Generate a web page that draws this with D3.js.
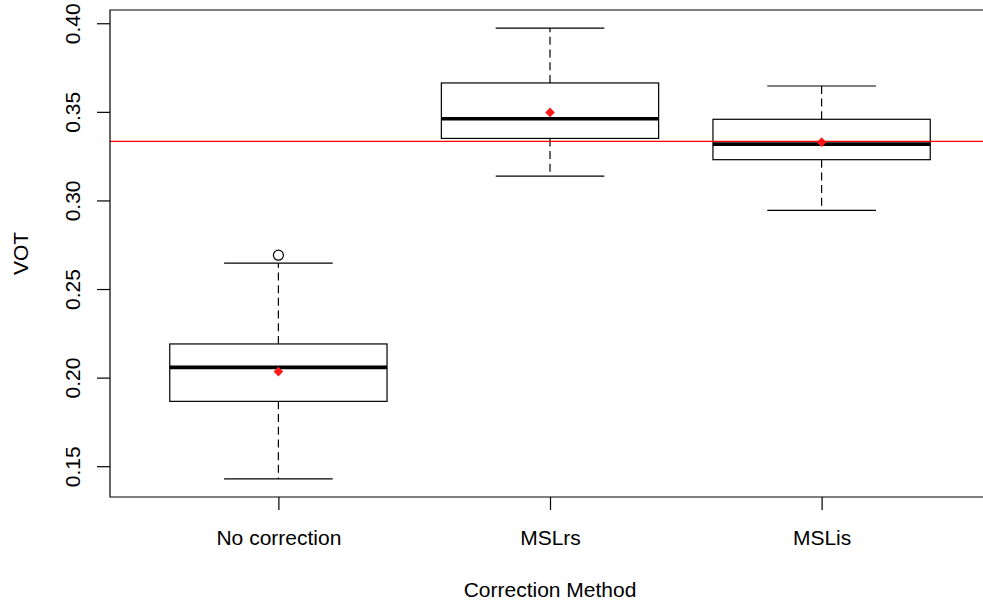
<!DOCTYPE html>
<html>
<head>
<meta charset="utf-8">
<script src="https://cdn.jsdelivr.net/npm/d3@7"></script>
<style>
  html, body { margin: 0; padding: 0; background: #fff; overflow: hidden; }
  svg { display: block; }
  text { font-family: "Liberation Sans", Arial, Helvetica, sans-serif; fill: #000; }
</style>
</head>
<body>
<div id="chart"></div>
<script>
// Datos (boxplot de VOT por método de corrección)
var categories   = ["No correction", "MSLrs", "MSLis"];
var lowWhisker   = [0.1428, 0.3137, 0.2944];
var q1           = [0.1866, 0.3350, 0.3230];
var medians      = [0.2058, 0.3461, 0.3318];
var q3           = [0.2190, 0.3663, 0.3458];
var highWhisker  = [0.2646, 0.3973, 0.3646];
var means        = [0.2034, 0.3497, 0.3329];
var outliers     = [[0.2691], [], []];
var refValue     = 1 / 3;
var yTicks       = [0.15, 0.20, 0.25, 0.30, 0.35, 0.40];
var xTitle = "Correction Method", yTitle = "VOT";

// Dimensiones (el marco derecho queda fuera de la imagen, como en el original)
var W = 983, H = 603;
var margin = {top: 10, right: -7, bottom: 106, left: 110},
    width = W - margin.left - margin.right,
    height = H - margin.top - margin.bottom;

var svg = d3.select("#chart").append("svg")
    .attr("width", W)
    .attr("height", H)
    .append("g")
    .attr("transform", "translate(" + margin.left + "," + margin.top + ")");

// Escalas (como R: rango de datos extendido un 4%)
var lo = d3.min(lowWhisker), hi = d3.max(highWhisker.concat(d3.merge(outliers)));
var pad = (hi - lo) * 0.04;
var y = d3.scaleLinear().domain([lo - pad, hi + pad]).range([height, 0]);
var x = d3.scaleLinear().domain([0.38, categories.length + 0.62]).range([0, width]);

var boxes = categories.map(function(c, i) {
  return {name: c, pos: i + 1, lw: lowWhisker[i], q1: q1[i], med: medians[i],
          q3: q3[i], hw: highWhisker[i], mean: means[i], out: outliers[i]};
});

var g = svg.selectAll(".box").data(boxes).enter().append("g").attr("class", "box");

// Bigotes discontinuos
g.append("line")
  .attr("x1", function(d) { return x(d.pos); }).attr("x2", function(d) { return x(d.pos); })
  .attr("y1", function(d) { return y(d.q3); }).attr("y2", function(d) { return y(d.hw); })
  .attr("stroke", "#000").attr("stroke-width", 1.2).attr("stroke-dasharray", "8,4.7");
g.append("line")
  .attr("x1", function(d) { return x(d.pos); }).attr("x2", function(d) { return x(d.pos); })
  .attr("y1", function(d) { return y(d.q1); }).attr("y2", function(d) { return y(d.lw); })
  .attr("stroke", "#000").attr("stroke-width", 1.2).attr("stroke-dasharray", "8,4.7");

// Topes de los bigotes
["lw", "hw"].forEach(function(k) {
  g.append("line")
    .attr("x1", function(d) { return x(d.pos - 0.2); }).attr("x2", function(d) { return x(d.pos + 0.2); })
    .attr("y1", function(d) { return y(d[k]); }).attr("y2", function(d) { return y(d[k]); })
    .attr("stroke", "#000").attr("stroke-width", 1.2);
});

// Cajas
g.append("rect")
  .attr("x", function(d) { return x(d.pos - 0.4); })
  .attr("width", x(1.4) - x(0.6))
  .attr("y", function(d) { return y(d.q3); })
  .attr("height", function(d) { return y(d.q1) - y(d.q3); })
  .attr("fill", "none").attr("stroke", "#000").attr("stroke-width", 1.2);

// Medianas
g.append("line")
  .attr("x1", function(d) { return x(d.pos - 0.4); }).attr("x2", function(d) { return x(d.pos + 0.4); })
  .attr("y1", function(d) { return y(d.med); }).attr("y2", function(d) { return y(d.med); })
  .attr("stroke", "#000").attr("stroke-width", 3.6);

// Atípicos
g.selectAll(".out").data(function(d) { return d.out.map(function(v) { return {pos: d.pos, v: v}; }); })
  .enter().append("circle")
  .attr("cx", function(d) { return x(d.pos); })
  .attr("cy", function(d) { return y(d.v); })
  .attr("r", 5)
  .attr("fill", "none").attr("stroke", "#000").attr("stroke-width", 1.2);

// Línea de referencia
svg.append("line")
  .attr("x1", 0).attr("x2", width)
  .attr("y1", y(refValue)).attr("y2", y(refValue))
  .attr("stroke", "#ff0000").attr("stroke-width", 1.4);

// Medias (rombo rojo)
g.append("path")
  .attr("d", d3.symbol().type(d3.symbolSquare).size(46))
  .attr("transform", function(d) { return "translate(" + x(d.pos) + "," + y(d.mean) + ") rotate(45)"; })
  .attr("fill", "#ff1a1a");

// Marco: arriba, izquierda y abajo (el lado derecho cae fuera del lienzo)
svg.append("path")
  .attr("d", "M" + width + ",0H0V" + height + "H" + width)
  .attr("fill", "none").attr("stroke", "#000").attr("stroke-width", 1.2);

// Eje Y
var yAxis = svg.append("g")
  .call(d3.axisLeft(y).tickValues(yTicks).tickSize(13).tickFormat(d3.format(".2f")));
yAxis.select(".domain").remove();
yAxis.selectAll("line").attr("stroke", "#000").attr("stroke-width", 1.2);
yAxis.selectAll("text")
  .attr("x", 0).attr("y", -30).attr("dy", 0)
  .attr("transform", "rotate(-90)")
  .attr("text-anchor", "middle")
  .style("font-size", "21px");

// Eje X
var xAxis = svg.append("g")
  .attr("transform", "translate(0," + height + ")")
  .call(d3.axisBottom(x).tickValues(boxes.map(function(d) { return d.pos; }))
        .tickSize(13).tickFormat(function(d) { return categories[d - 1]; }));
xAxis.select(".domain").remove();
xAxis.selectAll("line").attr("stroke", "#000").attr("stroke-width", 1.2);
xAxis.selectAll("text")
  .attr("y", 48).attr("dy", 0)
  .style("font-size", "21px");

// Títulos
svg.append("text")
  .attr("x", x(2))
  .attr("y", height + 100)
  .attr("text-anchor", "middle")
  .style("font-size", "21px")
  .text(xTitle);

svg.append("text")
  .attr("transform", "translate(" + (-82) + "," + (height / 2) + ") rotate(-90)")
  .attr("text-anchor", "middle")
  .style("font-size", "21px")
  .text(yTitle);
</script>
</body>
</html>
